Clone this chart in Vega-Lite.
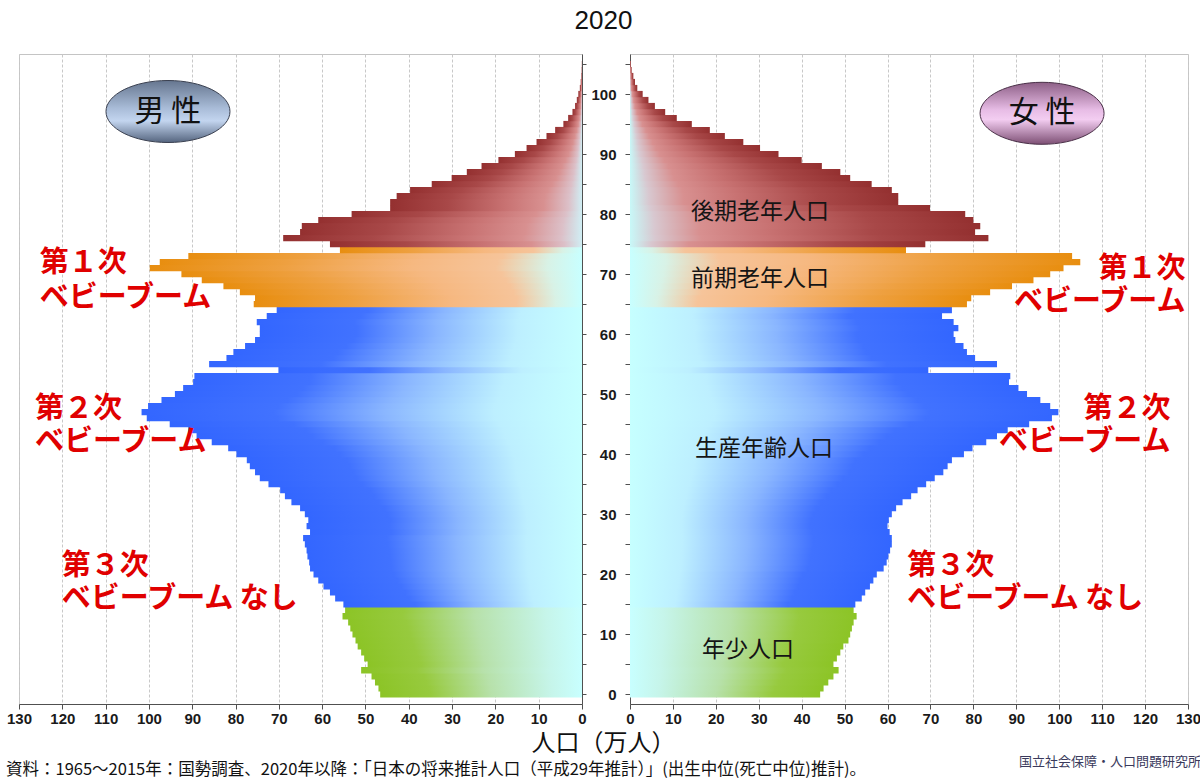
{
  "$schema": "https://vega.github.io/schema/vega-lite/v6.json",
  "background": "white",
  "padding": {"left": 5, "right": 4, "top": 7, "bottom": 0},
  "title": {"text": "2020", "font": "Liberation Sans", "fontSize": 26, "fontWeight": "normal", "color": "#111111", "anchor": "middle", "offset": 20},
  "config": {
    "view": {"stroke": "#c4c4c4", "strokeWidth": 1},
    "axis": {"labelFont": "Liberation Sans", "labelFontWeight": "bold", "labelFontSize": 15, "labelColor": "#1a1a1a", "domainColor": "#505050", "tickColor": "#505050", "title": null}
  },
  "datasets": {
    "male": [
      {"age":0,"pop":46.6,"group":"年少人口"},{"age":1,"pop":47.0,"group":"年少人口"},{"age":2,"pop":47.8,"group":"年少人口"},{"age":3,"pop":48.6,"group":"年少人口"},{"age":4,"pop":51.0,"group":"年少人口"},
      {"age":5,"pop":49.5,"group":"年少人口"},{"age":6,"pop":50.3,"group":"年少人口"},{"age":7,"pop":51.0,"group":"年少人口"},{"age":8,"pop":51.8,"group":"年少人口"},{"age":9,"pop":52.3,"group":"年少人口"},
      {"age":10,"pop":53.0,"group":"年少人口"},{"age":11,"pop":53.5,"group":"年少人口"},{"age":12,"pop":54.0,"group":"年少人口"},{"age":13,"pop":55.3,"group":"年少人口"},{"age":14,"pop":54.7,"group":"年少人口"},
      {"age":15,"pop":55.1,"group":"生産年齢人口"},{"age":16,"pop":57.0,"group":"生産年齢人口"},{"age":17,"pop":58.2,"group":"生産年齢人口"},{"age":18,"pop":59.7,"group":"生産年齢人口"},{"age":19,"pop":60.9,"group":"生産年齢人口"},
      {"age":20,"pop":62.0,"group":"生産年齢人口"},{"age":21,"pop":62.8,"group":"生産年齢人口"},{"age":22,"pop":63.0,"group":"生産年齢人口"},{"age":23,"pop":63.4,"group":"生産年齢人口"},{"age":24,"pop":63.6,"group":"生産年齢人口"},
      {"age":25,"pop":64.0,"group":"生産年齢人口"},{"age":26,"pop":64.4,"group":"生産年齢人口"},{"age":27,"pop":62.8,"group":"生産年齢人口"},{"age":28,"pop":63.6,"group":"生産年齢人口"},{"age":29,"pop":63.2,"group":"生産年齢人口"},
      {"age":30,"pop":64.0,"group":"生産年齢人口"},{"age":31,"pop":65.1,"group":"生産年齢人口"},{"age":32,"pop":67.1,"group":"生産年齢人口"},{"age":33,"pop":68.6,"group":"生産年齢人口"},{"age":34,"pop":69.7,"group":"生産年齢人口"},
      {"age":35,"pop":72.4,"group":"生産年齢人口"},{"age":36,"pop":74.4,"group":"生産年齢人口"},{"age":37,"pop":75.5,"group":"生産年齢人口"},{"age":38,"pop":76.7,"group":"生産年齢人口"},{"age":39,"pop":77.4,"group":"生産年齢人口"},
      {"age":40,"pop":79.8,"group":"生産年齢人口"},{"age":41,"pop":81.7,"group":"生産年齢人口"},{"age":42,"pop":85.5,"group":"生産年齢人口"},{"age":43,"pop":89.0,"group":"生産年齢人口"},{"age":44,"pop":90.9,"group":"生産年齢人口"},
      {"age":45,"pop":95.2,"group":"生産年齢人口"},{"age":46,"pop":100.5,"group":"生産年齢人口"},{"age":47,"pop":101.7,"group":"生産年齢人口"},{"age":48,"pop":100.2,"group":"生産年齢人口"},{"age":49,"pop":97.1,"group":"生産年齢人口"},
      {"age":50,"pop":94.0,"group":"生産年齢人口"},{"age":51,"pop":92.1,"group":"生産年齢人口"},{"age":52,"pop":89.8,"group":"生産年齢人口"},{"age":53,"pop":89.5,"group":"生産年齢人口"},{"age":54,"pop":70.1,"group":"生産年齢人口"},
      {"age":55,"pop":86.1,"group":"生産年齢人口"},{"age":56,"pop":82.1,"group":"生産年齢人口"},{"age":57,"pop":80.5,"group":"生産年齢人口"},{"age":58,"pop":77.8,"group":"生産年齢人口"},{"age":59,"pop":75.5,"group":"生産年齢人口"},
      {"age":60,"pop":74.4,"group":"生産年齢人口"},{"age":61,"pop":74.4,"group":"生産年齢人口"},{"age":62,"pop":75.1,"group":"生産年齢人口"},{"age":63,"pop":72.8,"group":"生産年齢人口"},{"age":64,"pop":70.5,"group":"生産年齢人口"},
      {"age":65,"pop":75.8,"group":"前期老年人口"},{"age":66,"pop":75.5,"group":"前期老年人口"},{"age":67,"pop":79.0,"group":"前期老年人口"},{"age":68,"pop":82.8,"group":"前期老年人口"},{"age":69,"pop":87.8,"group":"前期老年人口"},
      {"age":70,"pop":92.5,"group":"前期老年人口"},{"age":71,"pop":99.8,"group":"前期老年人口"},{"age":72,"pop":97.5,"group":"前期老年人口"},{"age":73,"pop":90.9,"group":"前期老年人口"},{"age":74,"pop":55.9,"group":"前期老年人口"},
      {"age":75,"pop":58.2,"group":"後期老年人口"},{"age":76,"pop":69.0,"group":"後期老年人口"},{"age":77,"pop":65.1,"group":"後期老年人口"},{"age":78,"pop":64.7,"group":"後期老年人口"},{"age":79,"pop":60.9,"group":"後期老年人口"},
      {"age":80,"pop":53.2,"group":"後期老年人口"},{"age":81,"pop":44.3,"group":"後期老年人口"},{"age":82,"pop":44.3,"group":"後期老年人口"},{"age":83,"pop":42.8,"group":"後期老年人口"},{"age":84,"pop":39.7,"group":"後期老年人口"},
      {"age":85,"pop":34.7,"group":"後期老年人口"},{"age":86,"pop":30.1,"group":"後期老年人口"},{"age":87,"pop":26.6,"group":"後期老年人口"},{"age":88,"pop":23.2,"group":"後期老年人口"},{"age":89,"pop":19.3,"group":"後期老年人口"},
      {"age":90,"pop":15.5,"group":"後期老年人口"},{"age":91,"pop":12.8,"group":"後期老年人口"},{"age":92,"pop":10.5,"group":"後期老年人口"},{"age":93,"pop":8.2,"group":"後期老年人口"},{"age":94,"pop":6.2,"group":"後期老年人口"},
      {"age":95,"pop":4.3,"group":"後期老年人口"},{"age":96,"pop":3.2,"group":"後期老年人口"},{"age":97,"pop":2.2,"group":"後期老年人口"},{"age":98,"pop":1.6,"group":"後期老年人口"},{"age":99,"pop":1.2,"group":"後期老年人口"},
      {"age":100,"pop":0.85,"group":"後期老年人口"},{"age":101,"pop":0.5,"group":"後期老年人口"},{"age":102,"pop":0.3,"group":"後期老年人口"},{"age":103,"pop":0.15,"group":"後期老年人口"},{"age":104,"pop":0.08,"group":"後期老年人口"},
      {"age":105,"pop":0.04,"group":"後期老年人口"}
    ],
    "female": [
      {"age":0,"pop":44.3,"group":"年少人口"},{"age":1,"pop":45.1,"group":"年少人口"},{"age":2,"pop":46.2,"group":"年少人口"},{"age":3,"pop":47.4,"group":"年少人口"},{"age":4,"pop":48.6,"group":"年少人口"},
      {"age":5,"pop":47.4,"group":"年少人口"},{"age":6,"pop":48.2,"group":"年少人口"},{"age":7,"pop":49.0,"group":"年少人口"},{"age":8,"pop":49.7,"group":"年少人口"},{"age":9,"pop":50.9,"group":"年少人口"},
      {"age":10,"pop":51.3,"group":"年少人口"},{"age":11,"pop":51.7,"group":"年少人口"},{"age":12,"pop":52.1,"group":"年少人口"},{"age":13,"pop":52.8,"group":"年少人口"},{"age":14,"pop":52.1,"group":"年少人口"},
      {"age":15,"pop":52.5,"group":"生産年齢人口"},{"age":16,"pop":54.0,"group":"生産年齢人口"},{"age":17,"pop":54.8,"group":"生産年齢人口"},{"age":18,"pop":55.9,"group":"生産年齢人口"},{"age":19,"pop":56.7,"group":"生産年齢人口"},
      {"age":20,"pop":57.5,"group":"生産年齢人口"},{"age":21,"pop":59.1,"group":"生産年齢人口"},{"age":22,"pop":59.8,"group":"生産年齢人口"},{"age":23,"pop":60.2,"group":"生産年齢人口"},{"age":24,"pop":60.6,"group":"生産年齢人口"},
      {"age":25,"pop":61.0,"group":"生産年齢人口"},{"age":26,"pop":61.0,"group":"生産年齢人口"},{"age":27,"pop":60.5,"group":"生産年齢人口"},{"age":28,"pop":60.0,"group":"生産年齢人口"},{"age":29,"pop":60.3,"group":"生産年齢人口"},
      {"age":30,"pop":61.0,"group":"生産年齢人口"},{"age":31,"pop":62.0,"group":"生産年齢人口"},{"age":32,"pop":63.5,"group":"生産年齢人口"},{"age":33,"pop":65.5,"group":"生産年齢人口"},{"age":34,"pop":67.0,"group":"生産年齢人口"},
      {"age":35,"pop":69.0,"group":"生産年齢人口"},{"age":36,"pop":71.0,"group":"生産年齢人口"},{"age":37,"pop":73.0,"group":"生産年齢人口"},{"age":38,"pop":74.0,"group":"生産年齢人口"},{"age":39,"pop":75.0,"group":"生産年齢人口"},
      {"age":40,"pop":77.8,"group":"生産年齢人口"},{"age":41,"pop":79.8,"group":"生産年齢人口"},{"age":42,"pop":83.0,"group":"生産年齢人口"},{"age":43,"pop":85.5,"group":"生産年齢人口"},{"age":44,"pop":88.0,"group":"生産年齢人口"},
      {"age":45,"pop":93.0,"group":"生産年齢人口"},{"age":46,"pop":98.3,"group":"生産年齢人口"},{"age":47,"pop":99.8,"group":"生産年齢人口"},{"age":48,"pop":97.9,"group":"生産年齢人口"},{"age":49,"pop":95.6,"group":"生産年齢人口"},
      {"age":50,"pop":92.5,"group":"生産年齢人口"},{"age":51,"pop":90.5,"group":"生産年齢人口"},{"age":52,"pop":88.3,"group":"生産年齢人口"},{"age":53,"pop":88.6,"group":"生産年齢人口"},{"age":54,"pop":69.5,"group":"生産年齢人口"},
      {"age":55,"pop":85.5,"group":"生産年齢人口"},{"age":56,"pop":80.4,"group":"生産年齢人口"},{"age":57,"pop":78.5,"group":"生産年齢人口"},{"age":58,"pop":77.7,"group":"生産年齢人口"},{"age":59,"pop":75.8,"group":"生産年齢人口"},
      {"age":60,"pop":75.4,"group":"生産年齢人口"},{"age":61,"pop":76.5,"group":"生産年齢人口"},{"age":62,"pop":75.4,"group":"生産年齢人口"},{"age":63,"pop":72.7,"group":"生産年齢人口"},{"age":64,"pop":75.0,"group":"生産年齢人口"},
      {"age":65,"pop":78.5,"group":"前期老年人口"},{"age":66,"pop":79.5,"group":"前期老年人口"},{"age":67,"pop":83.9,"group":"前期老年人口"},{"age":68,"pop":89.0,"group":"前期老年人口"},{"age":69,"pop":94.0,"group":"前期老年人口"},
      {"age":70,"pop":97.9,"group":"前期老年人口"},{"age":71,"pop":101.0,"group":"前期老年人口"},{"age":72,"pop":104.9,"group":"前期老年人口"},{"age":73,"pop":103.0,"group":"前期老年人口"},{"age":74,"pop":64.3,"group":"前期老年人口"},
      {"age":75,"pop":68.8,"group":"後期老年人口"},{"age":76,"pop":83.5,"group":"後期老年人口"},{"age":77,"pop":80.4,"group":"後期老年人口"},{"age":78,"pop":81.6,"group":"後期老年人口"},{"age":79,"pop":80.0,"group":"後期老年人口"},
      {"age":80,"pop":78.1,"group":"後期老年人口"},{"age":81,"pop":69.9,"group":"後期老年人口"},{"age":82,"pop":62.5,"group":"後期老年人口"},{"age":83,"pop":62.5,"group":"後期老年人口"},{"age":84,"pop":61.0,"group":"後期老年人口"},
      {"age":85,"pop":56.3,"group":"後期老年人口"},{"age":86,"pop":51.3,"group":"後期老年人口"},{"age":87,"pop":49.0,"group":"後期老年人口"},{"age":88,"pop":44.7,"group":"後期老年人口"},{"age":89,"pop":40.0,"group":"後期老年人口"},
      {"age":90,"pop":34.6,"group":"後期老年人口"},{"age":91,"pop":30.3,"group":"後期老年人口"},{"age":92,"pop":26.4,"group":"後期老年人口"},{"age":93,"pop":22.1,"group":"後期老年人口"},{"age":94,"pop":18.6,"group":"後期老年人口"},
      {"age":95,"pop":14.4,"group":"後期老年人口"},{"age":96,"pop":10.9,"group":"後期老年人口"},{"age":97,"pop":8.2,"group":"後期老年人口"},{"age":98,"pop":5.8,"group":"後期老年人口"},{"age":99,"pop":4.3,"group":"後期老年人口"},
      {"age":100,"pop":2.95,"group":"後期老年人口"},{"age":101,"pop":1.7,"group":"後期老年人口"},{"age":102,"pop":1.17,"group":"後期老年人口"},{"age":103,"pop":0.78,"group":"後期老年人口"},{"age":104,"pop":0.39,"group":"後期老年人口"},
      {"age":105,"pop":0.2,"group":"後期老年人口"}
    ],
    "maleNotes": [
      {"pop":125.2,"age":71.9,"label":"第１次"},{"pop":125.2,"age":66.1,"label":"ベビーブーム"},
      {"pop":126.3,"age":47.6,"label":"第２次"},{"pop":126.3,"age":42.0,"label":"ベビーブーム"},
      {"pop":120.1,"age":21.3,"label":"第３次"},{"pop":120.1,"age":15.8,"label":"ベビーブーム なし"}
    ],
    "femaleNotesRight": [
      {"pop":129.4,"age":70.9,"label":"第１次"},{"pop":129.4,"age":65.3,"label":"ベビーブーム"},
      {"pop":125.9,"age":47.6,"label":"第２次"},{"pop":125.9,"age":42.0,"label":"ベビーブーム"}
    ],
    "femaleNotesLeft": [
      {"pop":64.6,"age":21.3,"label":"第３次"},{"pop":64.6,"age":15.8,"label":"ベビーブーム なし"}
    ],
    "groupLabels": [
      {"pop":30.3,"age":80.4,"label":"後期老年人口"},{"pop":30.3,"age":69.2,"label":"前期老年人口"},
      {"pop":31.2,"age":40.9,"label":"生産年齢人口"},{"pop":27.5,"age":7.4,"label":"年少人口"}
    ],
    "maleTag": [{"pop":95.6,"age":97.1,"label":"男 性"}],
    "femaleTag": [{"pop":96.0,"age":96.8,"label":"女 性"}]
  },
  "vconcat": [{
    "title": {"text": "資料：1965～2015年：国勢調査、2020年以降：「日本の将来推計人口（平成29年推計）」(出生中位(死亡中位)推計)。", "orient": "bottom", "anchor": "start", "font": "Noto Sans CJK JP", "fontSize": 16.5, "fontWeight": "normal", "color": "#111111", "offset": -7},
    "vconcat": [{
      "title": {"text": "国立社会保障・人口問題研究所", "orient": "bottom", "anchor": "end", "font": "Noto Sans CJK JP", "fontSize": 13, "fontWeight": "normal", "color": "#3a3a5c", "offset": 0},
      "vconcat": [{
        "title": {"text": "人口（万人）", "orient": "bottom", "anchor": "middle", "font": "Noto Sans CJK JP", "fontSize": 24, "fontWeight": "normal", "color": "#111111", "offset": 5},
        "spacing": 48,
        "bounds": "flush",
        "hconcat": [
          {
            "width": 563,
            "height": 650,
            "encoding": {
              "x": {"field": "pop", "type": "quantitative", "scale": {"domain": [0, 130], "reverse": true, "nice": false},
                    "axis": {"values": [0,10,20,30,40,50,60,70,80,90,100,110,120,130], "grid": true, "gridColor": "#c8c8c8", "gridDash": [3, 2], "tickSize": 5, "labelPadding": 2, "labelFlush": false}},
              "y": {"field": "age", "type": "quantitative", "scale": {"domain": [-0.8, 105.85], "nice": false, "zero": false},
                    "axis": {"orient": "right", "values": [0,5,10,15,20,25,30,35,40,45,50,55,60,65,70,75,80,85,90,95,100,105], "labels": false, "tickSize": 4, "grid": false}}
            },
            "layer": [
              {"data": {"name": "male"}, "transform": [{"filter": {"field": "group", "equal": "年少人口"}}],
               "mark": {"type": "bar", "orient": "horizontal", "height": 6.4, "fill": {"gradient": "linear", "x1": 0, "y1": 0, "x2": 1, "y2": 0, "stops": [{"offset": 0, "color": "#8cc426"}, {"offset": 0.25, "color": "#97ca3e"}, {"offset": 0.55, "color": "#b7e1aa"}, {"offset": 0.85, "color": "#c6f5ea"}, {"offset": 1, "color": "#c8ffff"}]}}},
              {"data": {"name": "male"}, "transform": [{"filter": {"field": "group", "equal": "生産年齢人口"}}],
               "mark": {"type": "bar", "orient": "horizontal", "height": 6.4, "fill": {"gradient": "linear", "x1": 0, "y1": 0, "x2": 1, "y2": 0, "stops": [{"offset": 0, "color": "#3366ff"}, {"offset": 0.3, "color": "#4172ff"}, {"offset": 0.55, "color": "#8ab6ff"}, {"offset": 0.8, "color": "#bdefff"}, {"offset": 1, "color": "#c6ffff"}]}}},
              {"data": {"name": "male"}, "transform": [{"filter": {"field": "group", "equal": "前期老年人口"}}],
               "mark": {"type": "bar", "orient": "horizontal", "height": 6.4, "fill": {"gradient": "linear", "x1": 0, "y1": 0, "x2": 1, "y2": 0, "stops": [{"offset": 0, "color": "#e88e10"}, {"offset": 0.3, "color": "#eea040"}, {"offset": 0.6, "color": "#f6b880"}, {"offset": 0.8, "color": "#f6c49a"}, {"offset": 0.92, "color": "#d8f2e6"}, {"offset": 1, "color": "#c8ffff"}]}}},
              {"data": {"name": "male"}, "transform": [{"filter": {"field": "group", "equal": "後期老年人口"}}],
               "mark": {"type": "bar", "orient": "horizontal", "height": 6.4, "fill": {"gradient": "linear", "x1": 0, "y1": 0, "x2": 1, "y2": 0, "stops": [{"offset": 0, "color": "#943030"}, {"offset": 0.3, "color": "#a84848"}, {"offset": 0.6, "color": "#c87272"}, {"offset": 0.8, "color": "#d89090"}, {"offset": 0.93, "color": "#dcc0c8"}, {"offset": 1, "color": "#d0eef4"}]}}},
              {"data": {"name": "maleNotes"},
               "mark": {"type": "text", "align": "left", "baseline": "middle", "font": "Noto Sans CJK JP", "fontSize": 29, "fontWeight": "bold", "color": "#e00000"},
               "encoding": {"text": {"field": "label"}}},
              {"data": {"name": "maleTag"},
               "mark": {"type": "point", "shape": "M-1,0A1,0.5,0,1,1,1,0A1,0.5,0,1,1,-1,0Z", "size": 15376, "filled": true, "opacity": 1, "stroke": "#3a4050", "strokeWidth": 1,
                        "fill": {"gradient": "linear", "x1": 0, "y1": 0, "x2": 0, "y2": 1, "stops": [{"offset": 0, "color": "#66768f"}, {"offset": 0.45, "color": "#a9bcd8"}, {"offset": 0.65, "color": "#c3d5ef"}, {"offset": 1, "color": "#55657f"}]}}},
              {"data": {"name": "maleTag"},
               "mark": {"type": "text", "align": "center", "baseline": "middle", "font": "Noto Sans CJK JP", "fontSize": 30, "color": "#111111"},
               "encoding": {"text": {"field": "label"}}}
            ]
          },
          {
            "width": 558,
            "height": 650,
            "encoding": {
              "x": {"field": "pop", "type": "quantitative", "scale": {"domain": [0, 130], "nice": false},
                    "axis": {"values": [0,10,20,30,40,50,60,70,80,90,100,110,120,130], "grid": true, "gridColor": "#c8c8c8", "gridDash": [3, 2], "tickSize": 5, "labelPadding": 2, "labelFlush": false}},
              "y": {"field": "age", "type": "quantitative", "scale": {"domain": [-0.8, 105.85], "nice": false, "zero": false},
                    "axis": {"orient": "left", "values": [0,5,10,15,20,25,30,35,40,45,50,55,60,65,70,75,80,85,90,95,100,105], "labelExpr": "datum.value % 10 === 0 && datum.value <= 100 ? datum.label : ''", "tickSize": 5, "labelPadding": 9, "grid": false}}
            },
            "layer": [
              {"data": {"name": "female"}, "transform": [{"filter": {"field": "group", "equal": "年少人口"}}],
               "mark": {"type": "bar", "orient": "horizontal", "height": 6.4, "fill": {"gradient": "linear", "x1": 1, "y1": 0, "x2": 0, "y2": 0, "stops": [{"offset": 0, "color": "#8cc426"}, {"offset": 0.25, "color": "#97ca3e"}, {"offset": 0.55, "color": "#b7e1aa"}, {"offset": 0.85, "color": "#c6f5ea"}, {"offset": 1, "color": "#c8ffff"}]}}},
              {"data": {"name": "female"}, "transform": [{"filter": {"field": "group", "equal": "生産年齢人口"}}],
               "mark": {"type": "bar", "orient": "horizontal", "height": 6.4, "fill": {"gradient": "linear", "x1": 1, "y1": 0, "x2": 0, "y2": 0, "stops": [{"offset": 0, "color": "#3366ff"}, {"offset": 0.3, "color": "#4172ff"}, {"offset": 0.55, "color": "#8ab6ff"}, {"offset": 0.8, "color": "#bdefff"}, {"offset": 1, "color": "#c6ffff"}]}}},
              {"data": {"name": "female"}, "transform": [{"filter": {"field": "group", "equal": "前期老年人口"}}],
               "mark": {"type": "bar", "orient": "horizontal", "height": 6.4, "fill": {"gradient": "linear", "x1": 1, "y1": 0, "x2": 0, "y2": 0, "stops": [{"offset": 0, "color": "#e88e10"}, {"offset": 0.3, "color": "#eea040"}, {"offset": 0.6, "color": "#f6b880"}, {"offset": 0.8, "color": "#f6c49a"}, {"offset": 0.92, "color": "#d8f2e6"}, {"offset": 1, "color": "#c8ffff"}]}}},
              {"data": {"name": "female"}, "transform": [{"filter": {"field": "group", "equal": "後期老年人口"}}],
               "mark": {"type": "bar", "orient": "horizontal", "height": 6.4, "fill": {"gradient": "linear", "x1": 1, "y1": 0, "x2": 0, "y2": 0, "stops": [{"offset": 0, "color": "#943030"}, {"offset": 0.3, "color": "#a84848"}, {"offset": 0.6, "color": "#c87272"}, {"offset": 0.8, "color": "#d89090"}, {"offset": 0.93, "color": "#d8c8d0"}, {"offset": 1, "color": "#c8f8f8"}]}}},
              {"data": {"name": "femaleNotesRight"},
               "mark": {"type": "text", "align": "right", "baseline": "middle", "font": "Noto Sans CJK JP", "fontSize": 29, "fontWeight": "bold", "color": "#e00000"},
               "encoding": {"text": {"field": "label"}}},
              {"data": {"name": "femaleNotesLeft"},
               "mark": {"type": "text", "align": "left", "baseline": "middle", "font": "Noto Sans CJK JP", "fontSize": 29, "fontWeight": "bold", "color": "#e00000"},
               "encoding": {"text": {"field": "label"}}},
              {"data": {"name": "groupLabels"},
               "mark": {"type": "text", "align": "center", "baseline": "middle", "font": "Noto Sans CJK JP", "fontSize": 23, "color": "#151515"},
               "encoding": {"text": {"field": "label"}}},
              {"data": {"name": "femaleTag"},
               "mark": {"type": "point", "shape": "M-1,0A1,0.5,0,1,1,1,0A1,0.5,0,1,1,-1,0Z", "size": 15376, "filled": true, "opacity": 1, "stroke": "#4a3048", "strokeWidth": 1,
                        "fill": {"gradient": "linear", "x1": 0, "y1": 0, "x2": 0, "y2": 1, "stops": [{"offset": 0, "color": "#8d5f86"}, {"offset": 0.45, "color": "#e8bde6"}, {"offset": 0.6, "color": "#f3cdf1"}, {"offset": 1, "color": "#7d4f74"}]}}},
              {"data": {"name": "femaleTag"},
               "mark": {"type": "text", "align": "center", "baseline": "middle", "font": "Noto Sans CJK JP", "fontSize": 30, "color": "#111111"},
               "encoding": {"text": {"field": "label"}}}
            ]
          }
        ]
      }]
    }]
  }]
}
